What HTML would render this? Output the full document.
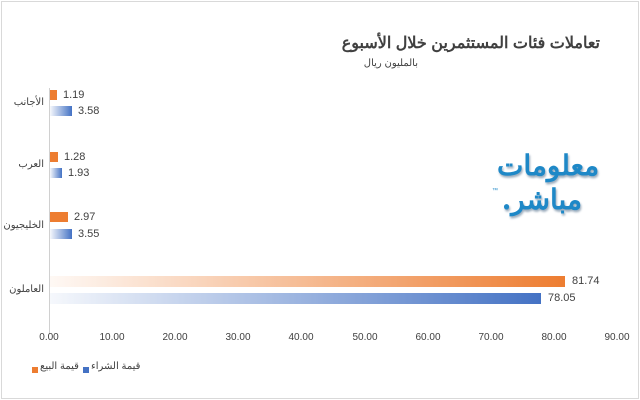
<!DOCTYPE html>
<html><head><meta charset="utf-8"><style>
body{margin:0;width:640px;height:400px;background:#fff;overflow:hidden;font-family:"Liberation Sans","Noto Sans CJK SC",sans-serif;}
.frame{position:absolute;left:1px;top:1px;width:636px;height:396px;border:1px solid #d9d9d9;}
.t{position:absolute;white-space:nowrap;color:#404040;}
.bar{position:absolute;height:10px;}
.o{background:linear-gradient(90deg,rgba(237,125,49,0.05),#ed7d31);}
.b{background:linear-gradient(90deg,rgba(68,114,196,0.05),#4472c4);}
.os{background:#ed7d31}.bs{background:#4472c4}
.v{font-size:11px;color:#404040;position:absolute}
.tick{position:absolute;top:332px;font-size:10px;color:#404040;width:40px;text-align:center;margin-left:-20px;}
.cat{position:absolute;left:4px;width:40px;text-align:right;font-size:10px;color:#404040;direction:rtl}
.logo{position:absolute;font-family:"WenQuanYi Zen Hei","Noto Sans CJK SC",sans-serif;color:#1e88c7;font-weight:bold;font-size:28px;text-shadow:1px 2px 2px #9ab;direction:rtl;line-height:1}
</style></head><body>
<div class="frame"></div>
<div class="t" style="right:40px;top:33px;font-size:16px;font-weight:bold;direction:rtl;color:#404040">تعاملات فئات المستثمرين خلال الأسبوع</div>
<div class="t" style="right:222px;top:58px;font-size:10px;direction:rtl">بالمليون ريال</div>
<div style="position:absolute;left:49px;top:88px;width:1px;height:246px;background:#d0d0d0"></div>

<div class="cat" style="top:97px">الأجانب</div>
<div class="bar os" style="left:50px;top:90px;width:7px"></div><div class="v" style="left:63px;top:89px">1.19</div>
<div class="bar b" style="left:50px;top:106px;width:22px"></div><div class="v" style="left:78px;top:105px">3.58</div>

<div class="cat" style="top:159px">العرب</div>
<div class="bar os" style="left:50px;top:152px;width:8px"></div><div class="v" style="left:64px;top:151px">1.28</div>
<div class="bar b" style="left:50px;top:168px;width:12px"></div><div class="v" style="left:68px;top:167px">1.93</div>

<div class="cat" style="top:220px">الخليجيون</div>
<div class="bar os" style="left:50px;top:212px;width:18px"></div><div class="v" style="left:74px;top:211px">2.97</div>
<div class="bar b" style="left:50px;top:229px;width:22px"></div><div class="v" style="left:78px;top:228px">3.55</div>

<div class="cat" style="top:284px">العاملون</div>
<div class="bar o" style="left:50px;top:276px;width:515px;height:11px"></div><div class="v" style="left:572px;top:275px">81.74</div>
<div class="bar b" style="left:50px;top:293px;width:491px;height:11px"></div><div class="v" style="left:548px;top:292px">78.05</div>

<div class="tick" style="left:49px">0.00</div>
<div class="tick" style="left:112px">10.00</div>
<div class="tick" style="left:175px">20.00</div>
<div class="tick" style="left:238px">30.00</div>
<div class="tick" style="left:301px">40.00</div>
<div class="tick" style="left:365px">50.00</div>
<div class="tick" style="left:428px">60.00</div>
<div class="tick" style="left:491px">70.00</div>
<div class="tick" style="left:554px">80.00</div>
<div class="tick" style="left:617px">90.00</div>

<div style="position:absolute;left:32px;top:367px;width:6px;height:6px;background:#ed7d31"></div>
<div class="t" style="left:40px;top:361px;font-size:10px;direction:rtl">قيمة البيع</div>
<div style="position:absolute;left:83px;top:367px;width:6px;height:6px;background:#4472c4"></div>
<div class="t" style="left:91px;top:361px;font-size:10px;direction:rtl">قيمة الشراء</div>

<div class="logo" style="left:497px;top:150px">معلومات</div>
<div class="logo" style="left:502px;top:184px">مباشر.</div>
<div style="position:absolute;left:492px;top:188px;font-size:6px;color:#1e88c7">™</div>
</body></html>
